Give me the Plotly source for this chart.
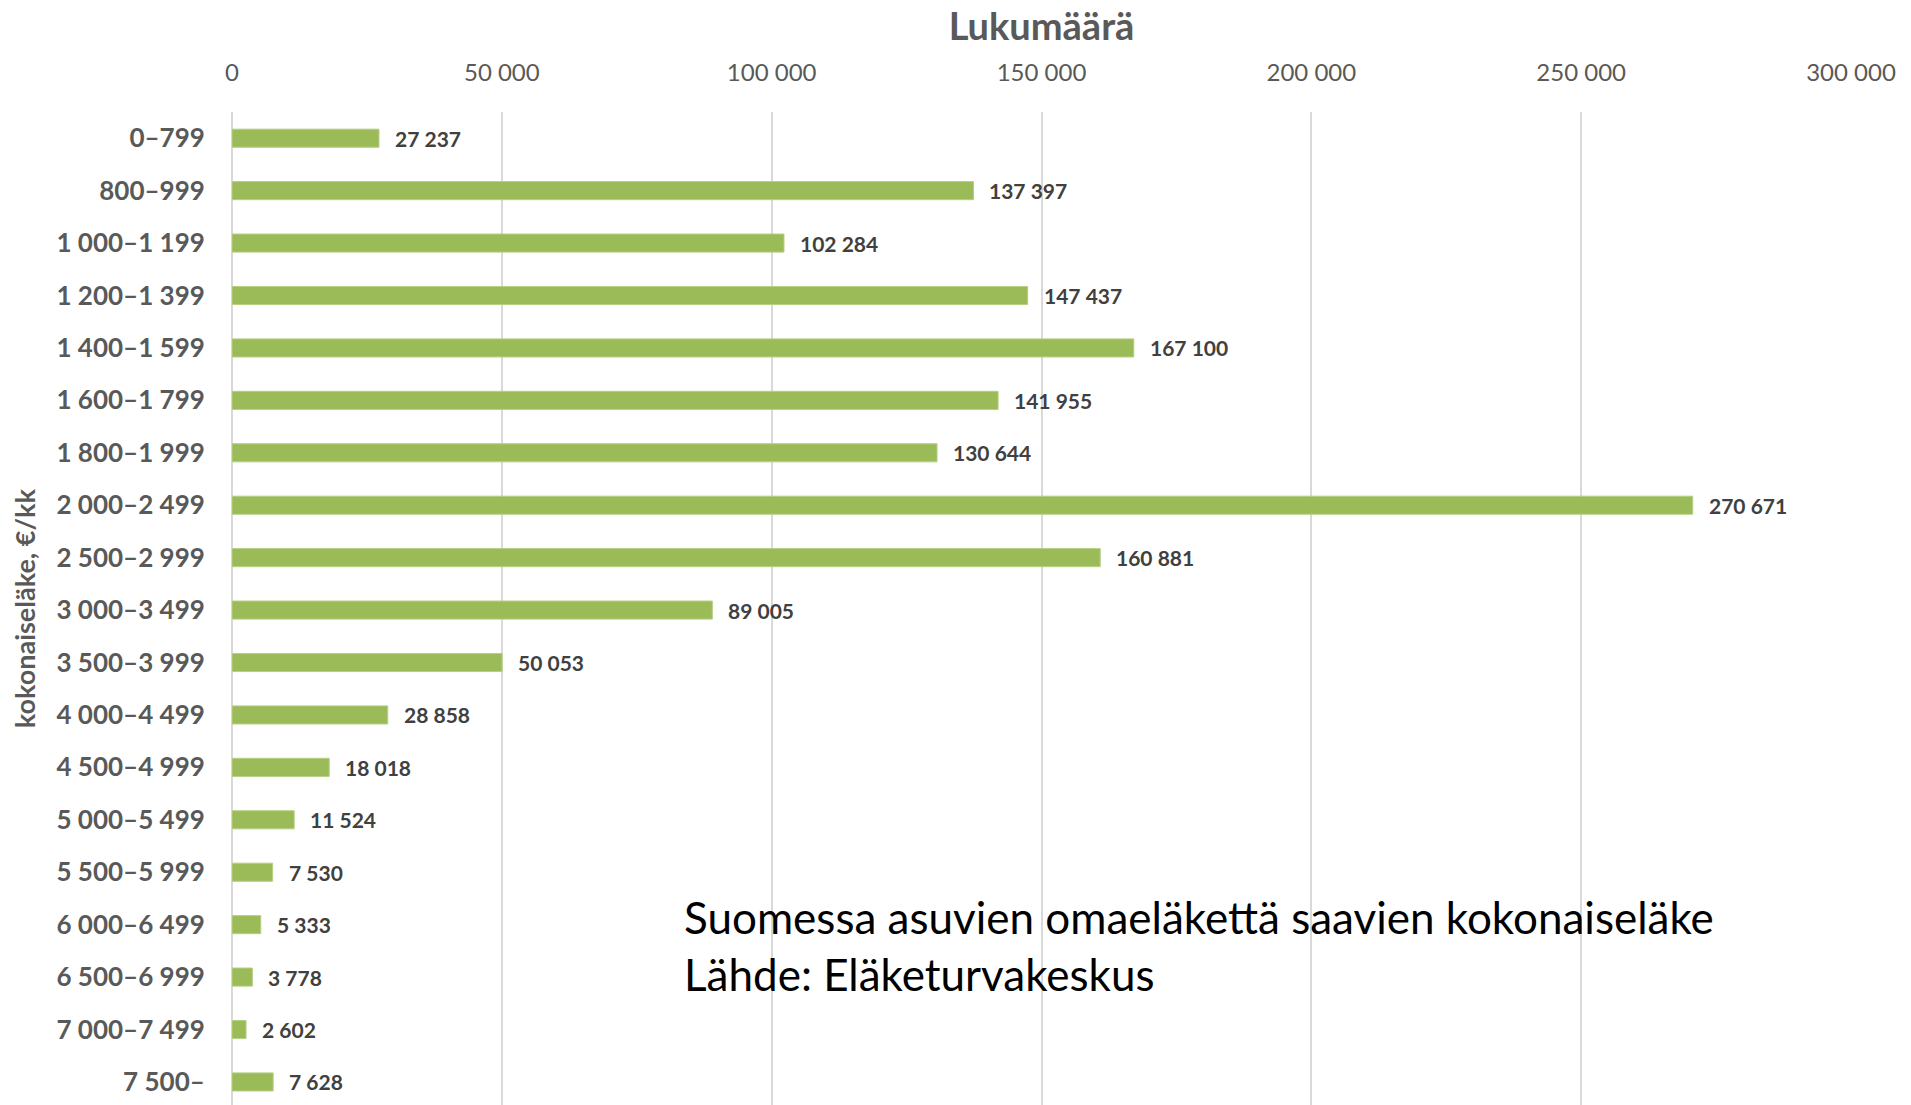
import plotly.graph_objects as go

# Kokonaiseläkkeen luokat ja saajien lukumäärät
luokat = ["0–799", "800–999", "1 000–1 199", "1 200–1 399", "1 400–1 599",
          "1 600–1 799", "1 800–1 999", "2 000–2 499", "2 500–2 999",
          "3 000–3 499", "3 500–3 999", "4 000–4 499", "4 500–4 999",
          "5 000–5 499", "5 500–5 999", "6 000–6 499", "6 500–6 999",
          "7 000–7 499", "7 500–"]
lukumaara = [27237, 137397, 102284, 147437, 167100, 141955, 130644, 270671,
             160881, 89005, 50053, 28858, 18018, 11524, 7530, 5333, 3778,
             2602, 7628]
x_ticks = [0, 50000, 100000, 150000, 200000, 250000, 300000]

FONT = "Lato"
GREEN = "#9BBB59"
GRID = "#D9D9D9"


def fi_num(v):
    return f"{v:,}".replace(",", " ")


fig = go.Figure()
fig.add_trace(go.Bar(
    x=lukumaara,
    y=luokat,
    orientation="h",
    marker=dict(color=GREEN, line=dict(color="#B5CF84", width=1)),
    hoverinfo="x+y",
))

# arvot palkkien perään
for v, k in zip(lukumaara, luokat):
    fig.add_annotation(
        x=v, y=k, xref="x", yref="y",
        text="<b>" + fi_num(v) + "</b>",
        showarrow=False, xanchor="left", xshift=14,
        font=dict(family=FONT, size=21, color="#404040"),
    )

fig.add_annotation(
    xref="paper", yref="paper", x=-0.128, y=0.5,
    text="<b>kokonaiseläke, €/kk</b>", textangle=-90,
    showarrow=False, xanchor="center", yanchor="middle",
    font=dict(family=FONT, size=27, color="#595959"),
)

fig.add_annotation(
    xref="paper", yref="paper", x=0.278, y=0.161,
    text="Suomessa asuvien omaeläkettä saavien kokonaiseläke<br>Lähde: Eläketurvakeskus",
    showarrow=False, xanchor="left", yanchor="middle", align="left",
    font=dict(family=FONT, size=44, color="#000000"),
)

fig.update_layout(
    width=1911, height=1105,
    margin=dict(l=232, r=60, t=112, b=0),
    plot_bgcolor="white", paper_bgcolor="white",
    separators=", ",
    bargap=0.655,
    showlegend=False,
    title=dict(text="<b>Lukumäärä</b>", x=0.5, xref="paper",
               y=1 - 27 / 1105, yref="container", yanchor="middle",
               font=dict(family=FONT, size=38, color="#595959")),
    xaxis=dict(
        side="top", range=[0, 300000], tickvals=x_ticks,
        ticktext=[fi_num(t) for t in x_ticks],
        showgrid=True, gridcolor=GRID, gridwidth=2,
        zeroline=True, zerolinecolor=GRID, zerolinewidth=2,
        ticks="outside", ticklen=20, tickcolor="rgba(0,0,0,0)",
        tickfont=dict(family=FONT, size=24, color="#595959"),
    ),
    yaxis=dict(
        range=[18.44, -0.5], showgrid=False, zeroline=False,
        ticks="outside", ticklen=21, tickcolor="rgba(0,0,0,0)",
        tickfont=dict(family=FONT, size=26, color="#595959", weight="bold"),
    ),
)

fig.write_html("out.html", config={"displayModeBar": False},
               post_script="document.body.style.margin='0';")
